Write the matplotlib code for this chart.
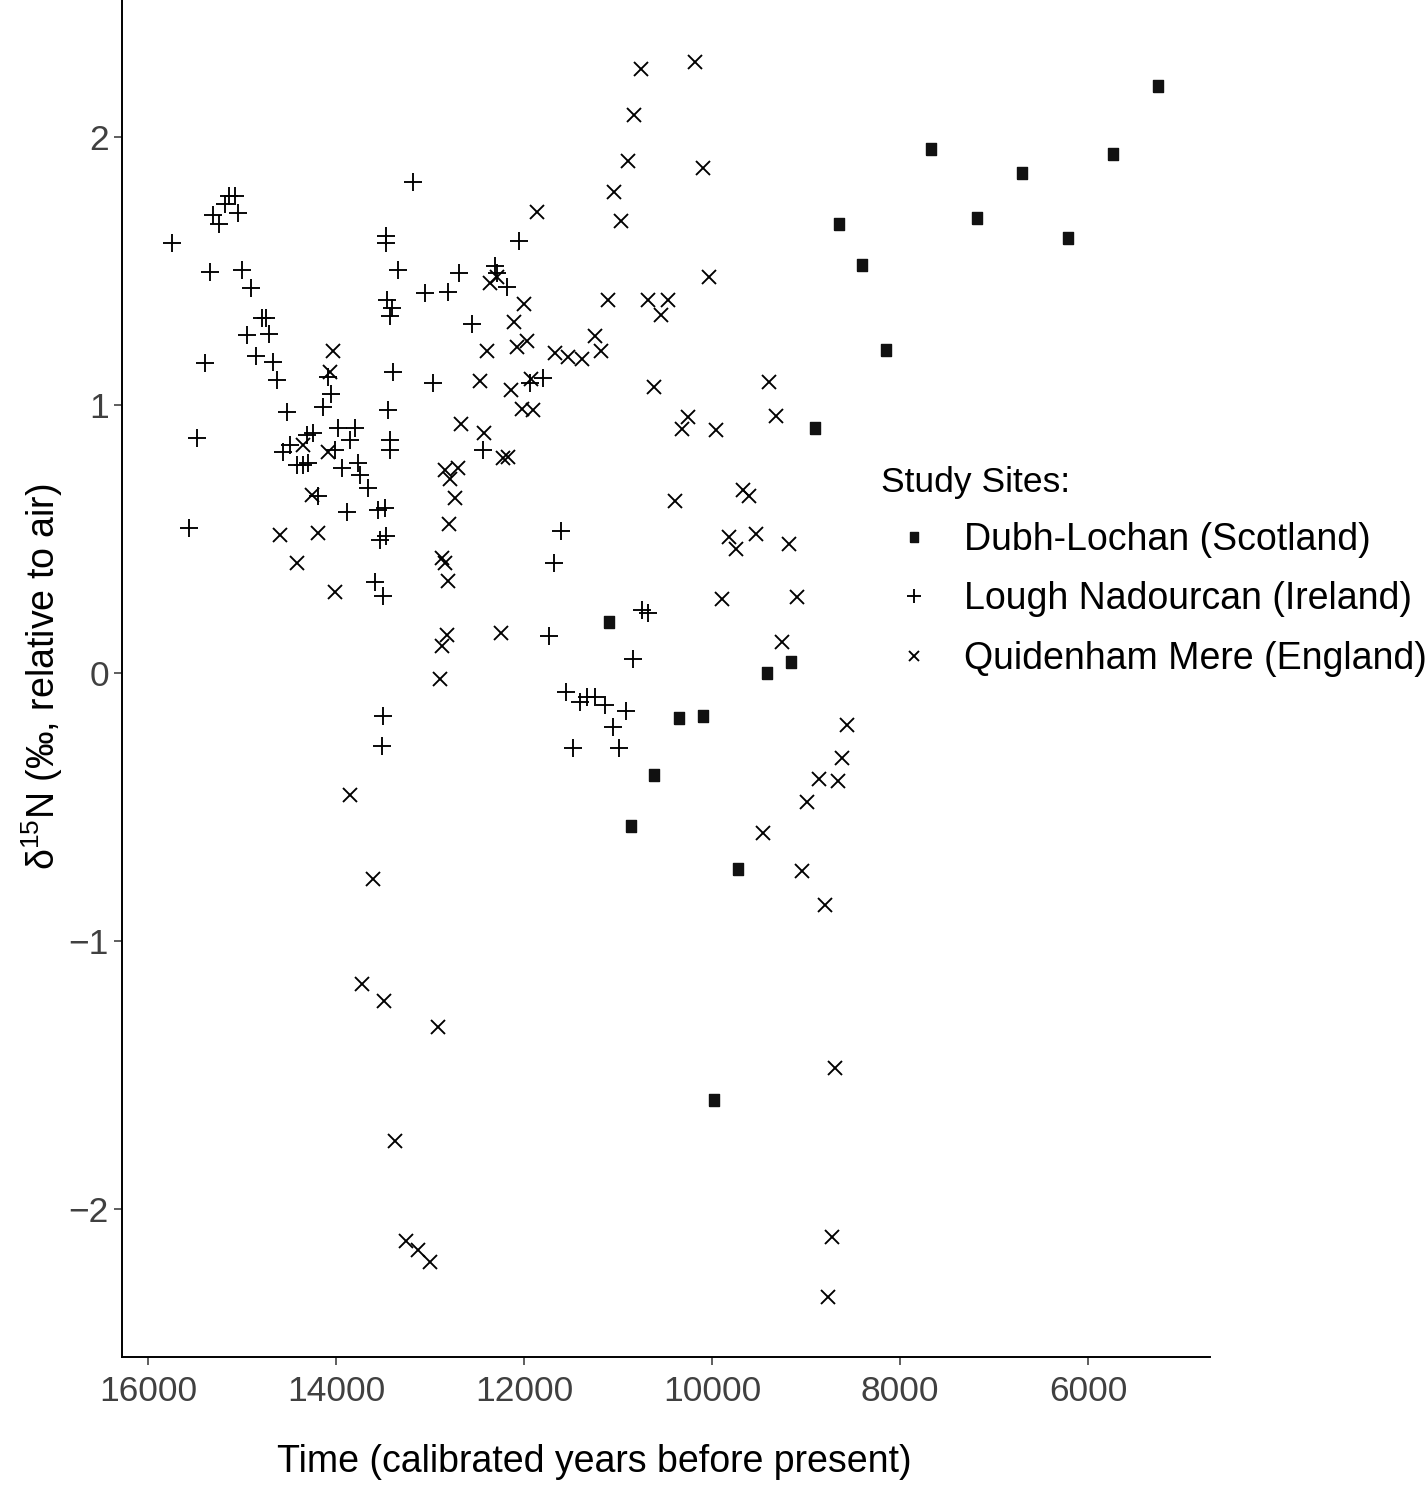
import numpy as np
import matplotlib
matplotlib.use('Agg')
import matplotlib.pyplot as plt

plt.rcParams['font.family'] = ['Liberation Sans', 'DejaVu Sans']
plt.rcParams['mathtext.fontset'] = 'custom'
plt.rcParams['mathtext.rm'] = 'Liberation Sans'
plt.rcParams['mathtext.it'] = 'Liberation Sans:italic'

# Dubh-Lochan (Scotland)
dubh_age = [5255, 7670, 5734, 6702, 7181, 8649, 6213, 8404, 8149, 8904,
            11096, 9415, 9160, 10351, 10096, 10617, 10862, 9723, 9979]
dubh_d15n = [2.19, 1.955, 1.937, 1.866, 1.698, 1.675, 1.623, 1.522, 1.205, 0.914,
             0.190, 0.0, 0.041, -0.168, -0.160, -0.381, -0.571, -0.731, -1.593]

# Lough Nadourcan (Ireland)
lough_age = [15745, 15564, 15479, 15394, 15341, 15309, 15245, 15181, 15138, 15075,
             15043, 15000, 14904, 14947, 14787, 14745, 14713, 14851, 14670, 14628,
             14521, 14564, 14489, 14415, 14351, 14298, 14309, 14245, 14192, 14138,
             14053, 14085, 14011, 13979, 13798, 13851, 13936, 13766, 13745, 13660,
             13883, 13553, 13479, 13532, 13468, 13585, 13500, 13426, 13426, 13447,
             13394, 13458, 13404, 13426, 13468, 13468, 13341, 13500, 13511, 13053,
             12809, 12968, 13181, 12053, 12692, 12309, 12287, 12181, 12553, 11936,
             11798, 12436, 11607, 11681, 11734, 10745, 10681, 10841, 11553, 11404,
             11330, 11245, 11139, 10915, 11053, 11479, 10990]
lough_d15n = [1.605, 0.541, 0.877, 1.157, 1.496, 1.709, 1.676, 1.750, 1.780, 1.780,
              1.717, 1.504, 1.437, 1.261, 1.325, 1.325, 1.265, 1.183, 1.161, 1.093,
              0.974, 0.825, 0.851, 0.776, 0.776, 0.784, 0.888, 0.896, 0.661, 0.993,
              1.041, 1.105, 0.832, 0.914, 0.914, 0.870, 0.765, 0.784, 0.739, 0.691,
              0.601, 0.608, 0.616, 0.497, 0.511, 0.340, 0.288, 0.870, 0.832, 0.981,
              1.123, 1.392, 1.362, 1.332, 1.631, 1.605, 1.504, -0.160, -0.272, 1.418,
              1.422, 1.082, 1.832, 1.612, 1.493, 1.519, 1.493, 1.440, 1.302, 1.082,
              1.101, 0.832, 0.530, 0.411, 0.138, 0.235, 0.224, 0.053, -0.071, -0.108,
              -0.089, -0.089, -0.119, -0.142, -0.201, -0.280, -0.280]

# Quidenham Mere (England)
quid_age = [10181, 10756, 10830, 10894, 10096, 11043, 10968, 10032, 11107, 10681,
            10468, 10543, 11245, 11181, 11670, 11532, 11383, 10617, 10256, 10319,
            9958, 9394, 9319, 10394, 9670, 9607, 9819, 9745, 9532, 9181,
            9894, 9096, 9256, 8564, 8617, 8862, 8660, 8990, 9458, 9043,
            8798, 8692, 8724, 8766, 11862, 12287, 12362, 12000, 12107, 11968,
            12075, 12394, 12468, 12139, 11926, 12021, 11905, 12670, 12426, 12224,
            12170, 12841, 12702, 12787, 12734, 12798, 12872, 12841, 12809, 12819,
            12872, 12245, 12894, 14032, 14064, 14351, 14085, 14255, 14596, 14192,
            14415, 14011, 13851, 13607, 13724, 13490, 12915, 13373, 13256, 13128,
            13000]
quid_d15n = [2.280, 2.254, 2.082, 1.910, 1.884, 1.795, 1.687, 1.478, 1.392, 1.392,
             1.392, 1.336, 1.258, 1.202, 1.194, 1.179, 1.172, 1.067, 0.955, 0.911,
             0.907, 1.086, 0.959, 0.642, 0.683, 0.661, 0.508, 0.463, 0.519, 0.481,
             0.276, 0.284, 0.116, -0.194, -0.317, -0.395, -0.403, -0.481, -0.597, -0.738,
             -0.865, -1.474, -2.104, -2.328, 1.720, 1.478, 1.455, 1.377, 1.310, 1.239,
             1.217, 1.202, 1.090, 1.056, 1.097, 0.985, 0.981, 0.929, 0.896, 0.802,
             0.806, 0.758, 0.765, 0.724, 0.653, 0.556, 0.429, 0.411, 0.344, 0.142,
             0.101, 0.150, -0.022, 1.202, 1.123, 0.851, 0.825, 0.664, 0.515, 0.523,
             0.411, 0.302, -0.455, -0.768, -1.160, -1.224, -1.321, -1.746, -2.119, -2.153,
             -2.197]

site_labels = ['Dubh-Lochan (Scotland)', 'Lough Nadourcan (Ireland)', 'Quidenham Mere (England)']
x_ticks = [16000, 14000, 12000, 10000, 8000, 6000]
y_ticks = [-2, -1, 0, 1, 2]

W, H = 1426, 1485
fig = plt.figure(figsize=(W / 100, H / 100), dpi=100)
ax = fig.add_axes([122 / W, 1 - 1357 / H, (1210 - 122) / W, 1357 / H])

rect = [(-0.37, -0.5), (0.37, -0.5), (0.37, 0.5), (-0.37, 0.5), (-0.37, -0.5)]
ax.plot(dubh_age, dubh_d15n, linestyle='none', marker=rect, markersize=9,
        color='#111111', label=site_labels[0])
ax.plot(lough_age, lough_d15n, linestyle='none', marker='+', markersize=13,
        markeredgewidth=1.35, color='black', label=site_labels[1])
ax.plot(quid_age, quid_d15n, linestyle='none', marker='x', markersize=9.8,
        markeredgewidth=1.35, color='black', label=site_labels[2])

ax.set_xlim(16277, 4702)
ax.set_ylim(-2.552, 2.511)
ax.set_xticks(x_ticks)
ax.set_yticks(y_ticks)
ax.tick_params(labelsize=25.5, labelcolor='#404040', color='#333333',
               length=5.5, width=1.1, pad=4)
ax.tick_params(axis='x', pad=7.5)
for s in ['top', 'right']:
    ax.spines[s].set_visible(False)
for s in ['left', 'bottom']:
    ax.spines[s].set_linewidth(1.4)

fig.text(594 / W, 1 - 1462 / H, 'Time (calibrated years before present)',
         ha='center', va='center', fontsize=27)
fig.text(42 / W, 1 - 677 / H, r'δ$^{\mathrm{15}}$N (‰, relative to air)',
         ha='center', va='center', rotation=90, fontsize=27)

leg = ax.legend(loc='upper left', bbox_to_anchor=(881 / W, 1 - 466 / H),
                bbox_transform=fig.transFigure, frameon=False,
                title='Study Sites:', title_fontsize=25.5, fontsize=27,
                borderpad=0, borderaxespad=0, handlelength=1.75, handletextpad=0.45,
                labelspacing=0.62, markerscale=0.8)
leg._legend_box.align = 'left'

fig.savefig('out.png', dpi=100)
